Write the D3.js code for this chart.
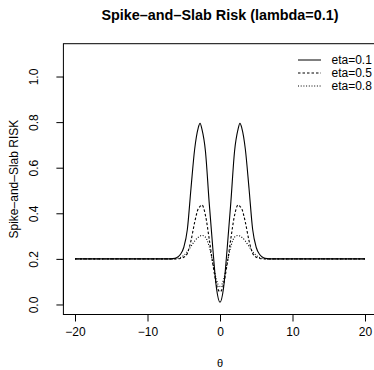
<!DOCTYPE html>
<html>
<head>
<meta charset="utf-8">
<script src="https://cdn.jsdelivr.net/npm/d3@7"></script>
<style>
  body { margin: 0; background: #ffffff; }
  svg { display: block; font-family: "Liberation Sans", Arial, sans-serif; }
</style>
</head>
<body>
<div id="chart"></div>
<script>
// theta grid (symmetric around 0)
let theta = [-20, -8, -7, -6.5, -6, -5.5, -5, -4.5, -4, -3.5, -3, -2.75, -2.5, -2, -1.5, -1, -0.5,
    0, 0.5, 1, 1.5, 2, 2.5, 2.75, 3, 3.5, 4, 4.5, 5, 5.5, 6, 6.5, 7, 8, 20];
let risk_eta01 = [0.2, 0.2, 0.2, 0.201, 0.205, 0.218, 0.25, 0.33, 0.51, 0.68, 0.775, 0.795, 0.77, 0.67, 0.45, 0.25, 0.075,
    0.01, 0.075, 0.25, 0.45, 0.67, 0.77, 0.795, 0.775, 0.68, 0.51, 0.33, 0.25, 0.218, 0.205, 0.201, 0.2, 0.2, 0.2];
let risk_eta05 = [0.2, 0.2, 0.2, 0.2, 0.2, 0.202, 0.207, 0.225, 0.28, 0.36, 0.42, 0.43, 0.437, 0.39, 0.29, 0.18, 0.09,
    0.055, 0.09, 0.18, 0.29, 0.39, 0.437, 0.43, 0.42, 0.36, 0.28, 0.225, 0.207, 0.202, 0.2, 0.2, 0.2, 0.2, 0.2];
let risk_eta08 = [0.2, 0.2, 0.2, 0.2, 0.202, 0.206, 0.215, 0.232, 0.255, 0.278, 0.295, 0.3, 0.303, 0.295, 0.255, 0.185, 0.11,
    0.076, 0.11, 0.185, 0.255, 0.295, 0.303, 0.3, 0.295, 0.278, 0.255, 0.232, 0.215, 0.206, 0.202, 0.2, 0.2, 0.2, 0.2];
let series_names = ["eta=0.1", "eta=0.5", "eta=0.8"];
let series_dash = [null, "2.5,2", "1,1.7"];
let x_ticks = [-20, -10, 0, 10, 20];
let y_ticks = [0, 0.2, 0.4, 0.6, 0.8, 1.0];

let width = 374, height = 370;
let plot = { left: 63.4, right: 376.6, top: 43.7, bottom: 314.5 };

let svg = d3.select("#chart").append("svg")
    .attr("width", width)
    .attr("height", height);

let x = d3.scaleLinear().domain([-21.6, 21.6]).range([plot.left, plot.right]);
let y = d3.scaleLinear().domain([-0.044, 1.144]).range([plot.bottom, plot.top]);

// box
svg.append("rect")
    .attr("x", plot.left)
    .attr("y", plot.top)
    .attr("width", plot.right - plot.left)
    .attr("height", plot.bottom - plot.top)
    .attr("fill", "none")
    .attr("stroke", "#000")
    .attr("stroke-width", 1);

// x axis
let g_x = svg.append("g")
    .attr("transform", "translate(0," + plot.bottom + ")")
    .call(d3.axisBottom(x).tickValues(x_ticks).tickSize(7).tickPadding(6)
        .tickFormat(d => d3.format("d")(d).replace("-", "\u2212")));
g_x.select(".domain")
    .attr("d", "M" + x(-20) + ",0H" + x(20));
g_x.selectAll("text")
    .attr("font-size", "12px")
    .attr("font-family", "Liberation Sans, Arial, sans-serif")
    .attr("fill", "#000");

// y axis, labels rotated like R
let g_y = svg.append("g")
    .attr("transform", "translate(" + plot.left + ",0)")
    .call(d3.axisLeft(y).tickValues(y_ticks).tickSize(7).tickFormat(d3.format(".1f")));
g_y.select(".domain")
    .attr("d", "M0," + y(0) + "V" + y(1));
g_y.selectAll(".tick text")
    .attr("x", null)
    .attr("dy", null)
    .attr("transform", "translate(-25.4,0) rotate(-90)")
    .attr("text-anchor", "middle")
    .attr("font-size", "12px")
    .attr("font-family", "Liberation Sans, Arial, sans-serif")
    .attr("fill", "#000");

// curves
let all_series = [risk_eta01, risk_eta05, risk_eta08];
let line = d3.line()
    .x((d, i) => x(theta[i]))
    .y(d => y(d))
    .curve(d3.curveMonotoneX);
all_series.forEach((s, k) => {
    svg.append("path")
        .datum(s)
        .attr("d", line)
        .attr("fill", "none")
        .attr("stroke", "#000")
        .attr("stroke-width", 1.1)
        .attr("stroke-dasharray", series_dash[k]);
});

// legend (no box)
let g_leg = svg.append("g");
series_names.forEach((name, k) => {
    let ly = 60 + k * 13;
    g_leg.append("line")
        .attr("x1", 298).attr("x2", 321)
        .attr("y1", ly).attr("y2", ly)
        .attr("stroke", "#000")
        .attr("stroke-width", 1)
        .attr("stroke-dasharray", series_dash[k]);
    g_leg.append("text")
        .attr("x", 331.5)
        .attr("y", ly + 4.2)
        .attr("font-size", "12px")
        .text(name);
});

// titles
svg.append("text")
    .attr("x", (plot.left + plot.right) / 2)
    .attr("y", 20)
    .attr("text-anchor", "middle")
    .attr("font-size", "14.4px")
    .attr("font-weight", "bold")
    .text("Spike\u2013and\u2013Slab Risk (lambda=0.1)");

svg.append("text")
    .attr("transform", "translate(18," + ((plot.top + plot.bottom) / 2) + ") rotate(-90)")
    .attr("text-anchor", "middle")
    .attr("font-size", "12px")
    .text("Spike\u2013and\u2013Slab RISK");

svg.append("text")
    .attr("x", (plot.left + plot.right) / 2)
    .attr("y", 367)
    .attr("text-anchor", "middle")
    .attr("font-size", "11px")
    .text("\u03b8");
</script>
</body>
</html>
